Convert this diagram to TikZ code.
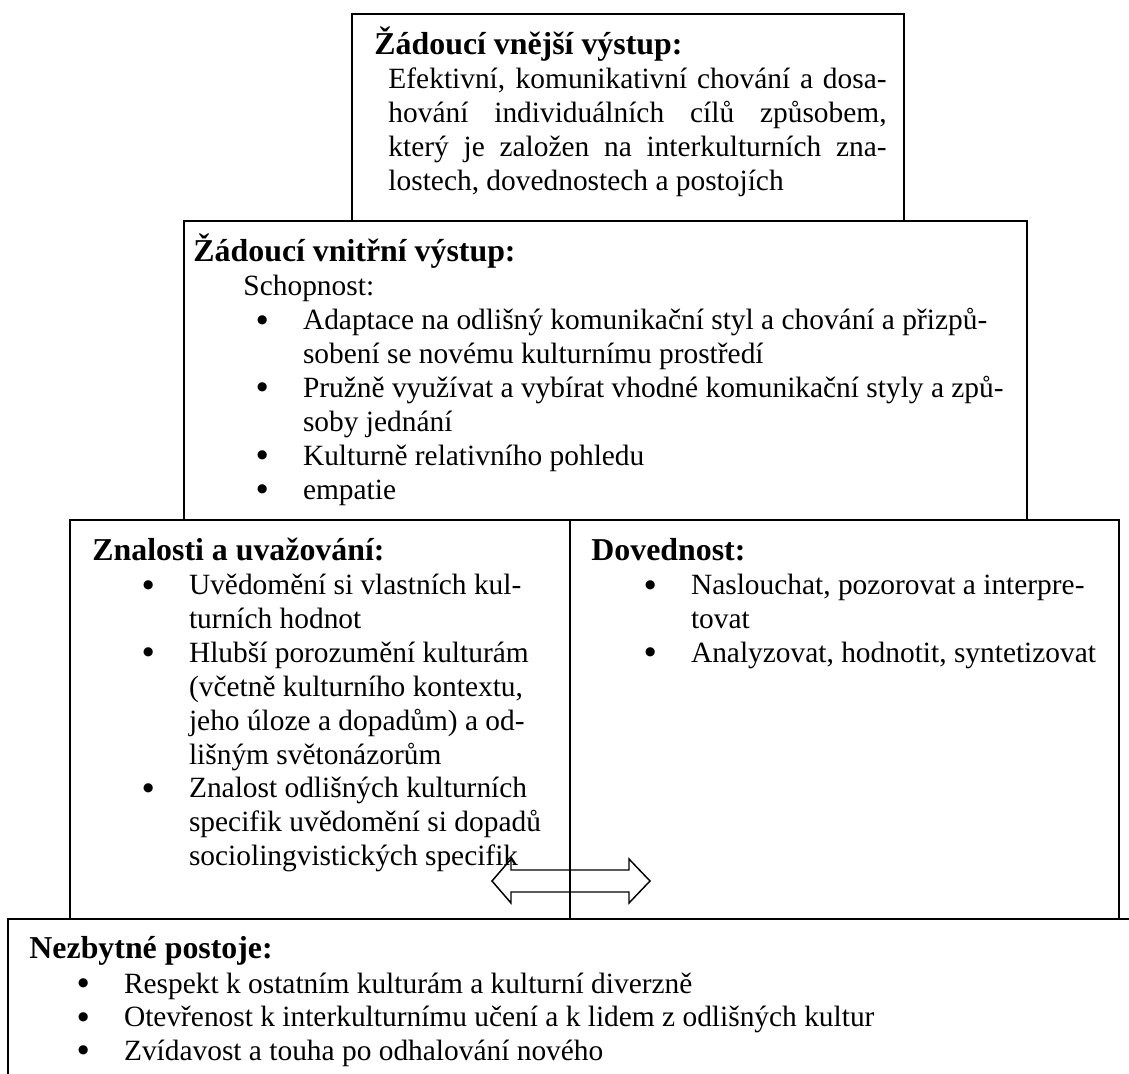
\documentclass[tikz,border=0pt]{standalone}
\usepackage{graphicx}
\usepackage{fontspec}
\setmainfont{Liberation Serif}
\newlength{\odsaz}
\setlength{\odsaz}{19pt}
\newcommand{\bod}[1]{\par\noindent\hangindent=\odsaz\hangafter=1\makebox[\odsaz][l]{\raisebox{-0.5pt}{\scalebox{1.15}{\bfseries\textbullet}}}#1}
\tikzset{
  box/.style={draw, line width=0.8pt},
  nadpis/.style={anchor=base west, inner sep=0pt, font=\fontsize{13}{15}\selectfont\bfseries},
  telo/.style={anchor=base west, inner sep=0pt, font=\fontsize{12}{13.8}\selectfont},
}
\begin{document}
\begin{tikzpicture}[x=0.40816pt, y=-0.40816pt]
  \useasboundingbox (0,0) rectangle (1129,1074);
  \clip (0,0) rectangle (1129,1074);
  % boxes
  \draw[box] (352,14) rectangle (904,221);
  \draw[box] (184,221) rectangle (1027,520);
  \draw[box] (70,520) rectangle (570,919);
  \draw[box] (570,520) rectangle (1119,919);
  \draw[box] (8,919) rectangle (1140,1090);
  % vnejsi vystup
  \node[nadpis] (h1) at (374,55) {Žádoucí vnější výstup:};
  \node[telo] (t1) at (388,89) {\parbox[t]{203.3pt}{Efektivní, komunikativní chování a dosa-\linebreak
    hování individuálních cílů způsobem,\linebreak
    který je založen na interkulturních zna-\linebreak
    lostech, dovednostech a postojích}};
  % vnitrni vystup
  \node[nadpis] (h2) at (193,262) {Žádoucí vnitřní výstup:};
  \node[telo] (s2) at (243,296) {Schopnost:};
  \node[telo] (t2) at (256,330) {\parbox[t]{330pt}{\raggedright
    \bod{Adaptace na odlišný komunikační styl a chování a přizpů-\newline sobení se novému kulturnímu prostředí}
    \bod{Pružně využívat a vybírat vhodné komunikační styly a způ-\newline soby jednání}
    \bod{Kulturně relativního pohledu}
    \bod{empatie}}};
  % znalosti
  \node[nadpis] (h3) at (92,561) {Znalosti a uvažování:};
  \node[telo] (t3) at (142,595) {\parbox[t]{200pt}{\raggedright
    \bod{Uvědomění si vlastních kul-\newline turních hodnot}
    \bod{Hlubší porozumění kulturám\newline (včetně kulturního kontextu,\newline jeho úloze a dopadům) a od-\newline lišným světonázorům}
    \bod{Znalost odlišných kulturních\newline specifik uvědomění si dopadů\newline sociolingvistických specifik}}};
  % dovednost
  \node[nadpis] (h4) at (591,561) {Dovednost:};
  \node[telo] (t4) at (644,595) {\parbox[t]{200pt}{\raggedright
    \bod{Naslouchat, pozorovat a interpre-\newline tovat}
    \bod{Analyzovat, hodnotit, syntetizovat}}};
  % postoje
  \node[nadpis] (h5) at (29,958) {Nezbytné postoje:};
  \node[telo] (t5) at (77,993) {\parbox[t]{400pt}{\raggedright
    \bod{Respekt k ostatním kulturám a kulturní diverzně}
    \bod{Otevřenost k interkulturnímu učení a k lidem z odlišných kultur}
    \bod{Zvídavost a touha po odhalování nového}}};
  % obousmerna sipka
  \draw[line width=0.6pt] (492,881) -- (511,859) -- (511,870) -- (629,870) -- (629,859)
    -- (650,881) -- (629,903) -- (629,892) -- (511,892) -- (511,903) -- cycle;
\end{tikzpicture}
\end{document}
